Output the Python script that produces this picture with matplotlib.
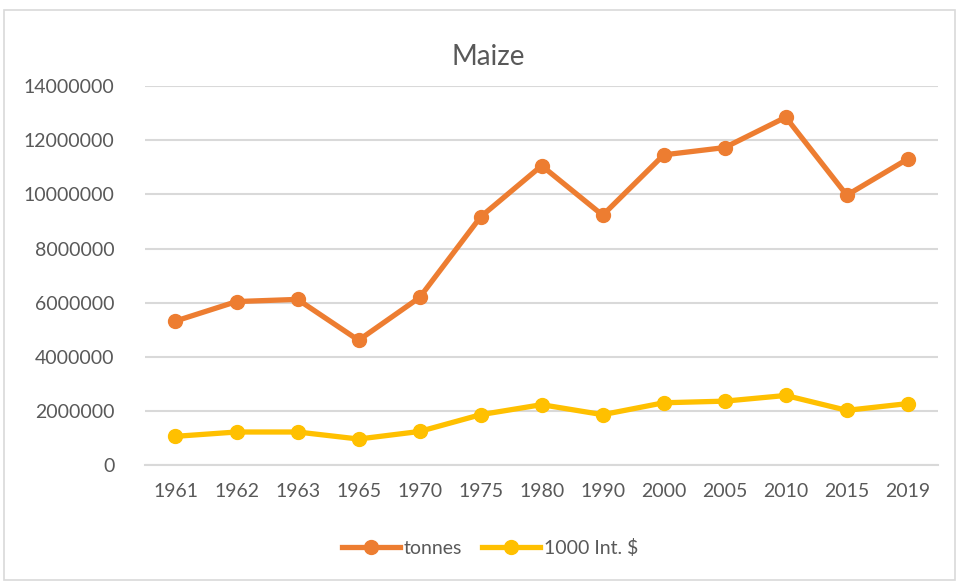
import matplotlib.pyplot as plt
import numpy as np
from matplotlib.patches import Rectangle

years = ["1961", "1962", "1963", "1965", "1970", "1975", "1980",
         "1990", "2000", "2005", "2010", "2015", "2019"]
tonnes = [5320000, 6040000, 6120000, 4610000, 6190000, 9170000, 11060000,
          9230000, 11460000, 11730000, 12850000, 9970000, 11310000]
int_dollars = [1060000, 1220000, 1220000, 960000, 1240000, 1860000, 2230000,
               1860000, 2300000, 2360000, 2570000, 2020000, 2270000]
yticks = np.arange(0, 14000001, 2000000)

ORANGE = "#ED7D31"
YELLOW = "#FFC000"
TEXT = "#595959"

plt.rcParams["font.family"] = ["Lato", "DejaVu Sans"]

fig = plt.figure(figsize=(9.57, 5.82), dpi=100)
ax = fig.add_axes([0.1515, 0.201, 0.829, 0.651])

# chart border like excel
fig.patches.append(Rectangle((0.004, 0.004), 0.994, 0.978, transform=fig.transFigure,
                             fill=False, edgecolor="#D9D9D9", linewidth=1.2))

x = np.arange(len(years))
ax.plot(x, tonnes, color=ORANGE, linewidth=3.8, marker="o", markersize=10,
        label="tonnes", zorder=3)
ax.plot(x, int_dollars, color=YELLOW, linewidth=3.8, marker="o", markersize=10,
        label="1000 Int. $", zorder=3)

ax.set_xlim(-0.5, len(years) - 0.5)
ax.set_ylim(0, 14000000)
ax.set_yticks(yticks)
ax.set_yticklabels([str(v) for v in yticks])
ax.set_xticks(x)
ax.set_xticklabels(years)
ax.tick_params(axis="both", length=0, colors=TEXT, labelsize=14)
ax.tick_params(axis="x", pad=13)
ax.tick_params(axis="y", pad=22)
ax.grid(axis="y", color="#D9D9D9", linewidth=1.5)
ax.set_axisbelow(True)
for s in ax.spines.values():
    s.set_visible(False)
ax.spines["bottom"].set_visible(True)
ax.spines["bottom"].set_color("#D9D9D9")
ax.spines["bottom"].set_linewidth(1.5)

fig.text(0.51, 0.902, "Maize", ha="center", va="center", fontsize=20, color=TEXT)

fig.legend(loc="center", bbox_to_anchor=(0.512, 0.058), ncol=2, frameon=False,
           fontsize=14, labelcolor=TEXT, handlelength=3.0, columnspacing=1.0,
           handletextpad=0.2)

fig.savefig("out.png", dpi=100, facecolor="white")
